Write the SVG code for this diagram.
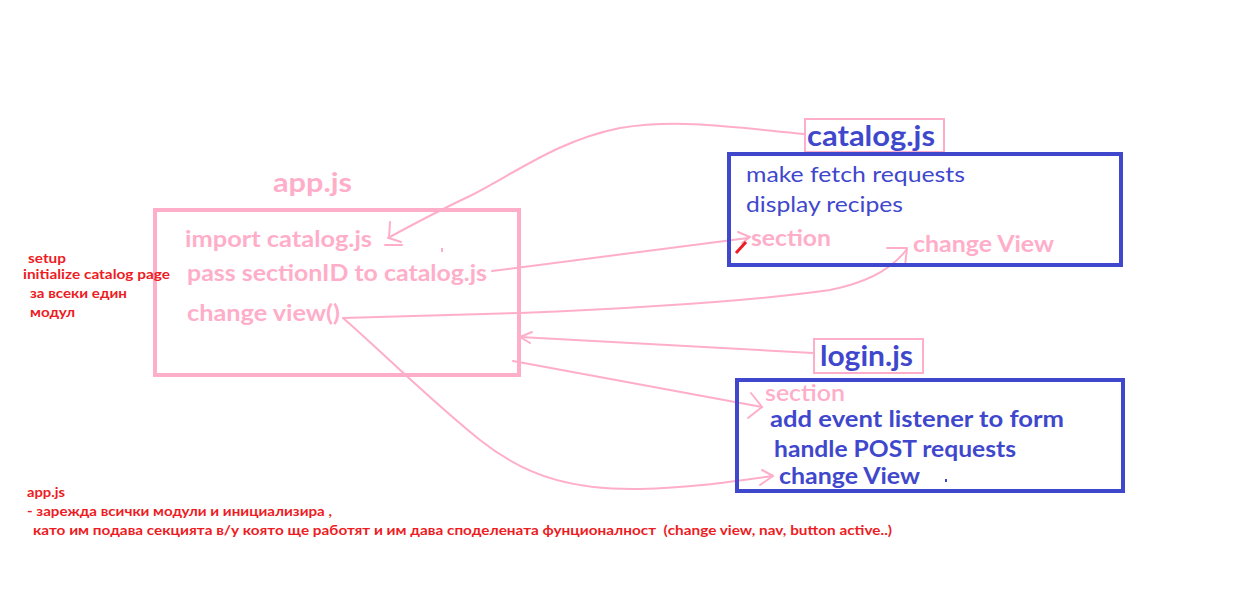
<svg xmlns="http://www.w3.org/2000/svg" width="1251" height="609" viewBox="0 0 1251 609">
<style>
.pk{fill:#FFAEC9}
.bl{fill:#3F48CC}
.rd{fill:#ED1C24;font-family:"Lato","Liberation Sans",sans-serif;font-weight:bold;font-size:13px}
.t{font-family:"Lato","Open Sans","Liberation Sans",sans-serif}
.b{font-weight:bold}
.pbox{fill:none;stroke:#FFAEC9;stroke-width:4}
.bbox{fill:none;stroke:#3F48CC;stroke-width:4}
.lbox{fill:#fff;stroke:#FFAEC9;stroke-width:2}
.c{fill:none;stroke:#FFAEC9;stroke-width:2;stroke-linecap:round;stroke-linejoin:round}
</style>
<rect width="1251" height="609" fill="#fff"/>

<g id="connectors">
  <path class="c" d="M804,134 C740,128 680,118 620,128 C560,140 520,170 470,196 C440,210 410,226 388,238"/>
  <path class="c" d="M390,222 L389,238 L401,242 M385,245 L402,245"/>
  <path class="c" d="M492,271 L748,238"/>
  <path class="c" d="M738,232 L750,237 L742,243"/>
  <path class="c" d="M343,318 L520,313 C640,308 760,300 830,290 C870,282 893,268 907,249"/>
  <path class="c" d="M887,248 L907,248 L905,266"/>
  <path class="c" d="M813,353 L520,337"/>
  <path class="c" d="M532,332 L520,337 L530,343"/>
  <path class="c" d="M513,361 L762,407"/>
  <path class="c" d="M751,393 L762,407 L748,418"/>
  <path class="c" d="M343,318 C380,350 430,400 480,440 C530,480 580,490 640,489 C690,488 730,482 773,476"/>
  <path class="c" d="M762,470 L773,476 L760,485"/>
  <path d="M736,253 L746,242" stroke="#ED1C24" stroke-width="3" fill="none"/>
</g>

<g id="app">
  <text class="t b pk" x="273" y="192" font-size="27" textLength="79" lengthAdjust="spacingAndGlyphs">app.js</text>
  <rect class="pbox" x="155" y="210" width="364" height="165"/>
  <text class="t b pk" x="185" y="247" font-size="23" textLength="187" lengthAdjust="spacingAndGlyphs">import catalog.js</text>
  <text class="t b pk" x="187" y="281" font-size="23" textLength="300" lengthAdjust="spacingAndGlyphs">pass sectionID to catalog.js</text>
  <text class="t b pk" x="187" y="321" font-size="23" textLength="153" lengthAdjust="spacingAndGlyphs">change view()</text>
  <rect class="pk" x="441" y="248" width="2" height="4"/>
</g>

<g id="catalog">
  <rect class="lbox" x="805" y="119" width="139" height="33"/>
  <text class="t b bl" x="807" y="146" font-size="28" textLength="128" lengthAdjust="spacingAndGlyphs">catalog.js</text>
  <rect class="bbox" x="729" y="154" width="392" height="111"/>
  <text class="t bl" x="746" y="182" font-size="22" textLength="219" lengthAdjust="spacingAndGlyphs">make fetch requests</text>
  <text class="t bl" x="746" y="212" font-size="22" textLength="157" lengthAdjust="spacingAndGlyphs">display recipes</text>
  <text class="t b pk" x="751" y="246" font-size="22" textLength="80" lengthAdjust="spacingAndGlyphs">section</text>
  <text class="t b pk" x="913" y="252" font-size="22" textLength="141" lengthAdjust="spacingAndGlyphs">change View</text>
</g>

<g id="login">
  <rect class="lbox" x="814" y="339" width="109" height="34"/>
  <text class="t b bl" x="820" y="366" font-size="28" textLength="93" lengthAdjust="spacingAndGlyphs">login.js</text>
  <rect class="bbox" x="737" y="380" width="386" height="111"/>
  <text class="t pk" x="765" y="401" font-size="22" textLength="80" lengthAdjust="spacingAndGlyphs" font-weight="600">section</text>
  <text class="t b bl" x="770" y="427" font-size="22" textLength="294" lengthAdjust="spacingAndGlyphs">add event listener to form</text>
  <text class="t b bl" x="774" y="457" font-size="22" textLength="242" lengthAdjust="spacingAndGlyphs">handle POST requests</text>
  <text class="t b bl" x="779" y="484" font-size="22" textLength="141" lengthAdjust="spacingAndGlyphs">change View</text>
  <rect class="bl" x="945" y="479" width="2" height="3"/>
</g>

<g id="note-setup">
  <text class="rd" x="28" y="263" textLength="38" lengthAdjust="spacingAndGlyphs">setup</text>
  <text class="rd" x="23" y="279" textLength="147" lengthAdjust="spacingAndGlyphs">initialize catalog page</text>
  <text class="rd" x="30" y="298" textLength="97" lengthAdjust="spacingAndGlyphs">за всеки един</text>
  <text class="rd" x="30" y="317" textLength="45" lengthAdjust="spacingAndGlyphs">модул</text>
</g>

<g id="note-app">
  <text class="rd" x="27" y="497" textLength="38" lengthAdjust="spacingAndGlyphs">app.js</text>
  <text class="rd" x="27" y="516" textLength="305" lengthAdjust="spacingAndGlyphs">- зарежда всички модули и инициализира ,</text>
  <text class="rd" x="33" y="535" textLength="859" lengthAdjust="spacingAndGlyphs" xml:space="preserve">като им подава секцията в/у която ще работят и им дава споделената фунционалност  (change view, nav, button active..)</text>
</g>
</svg>
